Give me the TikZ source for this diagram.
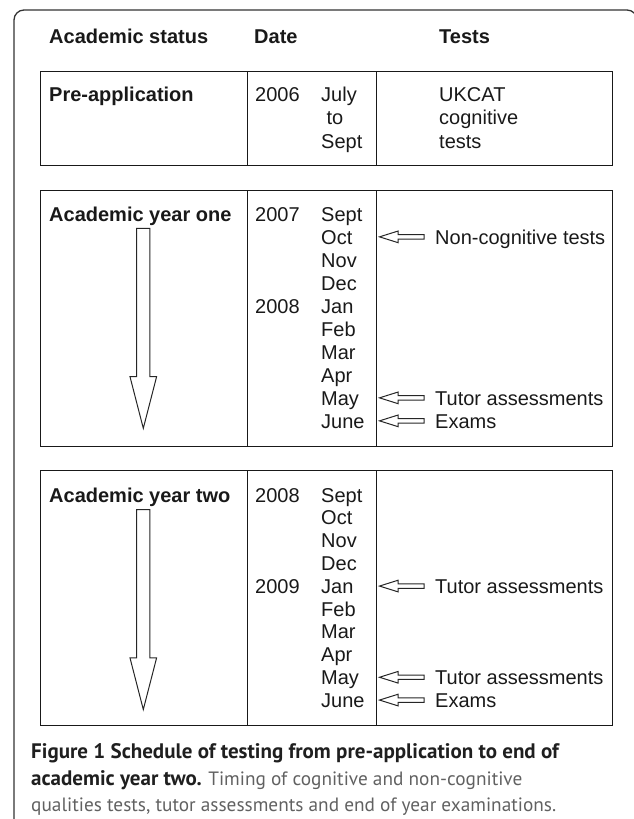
\documentclass[tikz,border=0pt]{standalone}
\usepackage{fontspec}
\setmainfont{Liberation Sans}
\newfontfamily\capfont{PT Sans}
\usepackage{tikz}
\usetikzlibrary{positioning,calc}

\tikzset{
  testarrow/.pic={
    \draw[arrowline] (0,-2.2) -- (-26,-2.2) -- (-26,-5.8) -- (-44.5,0)
      -- (-26,5.8) -- (-26,2.2) -- (0,2.2) -- cycle;
  },
  yeararrow/.pic={
    \draw[arrowline] (-6.65,0) -- (-6.65,148.4) -- (-13.3,148.4) -- (0,200)
      -- (13.3,148.4) -- (6.65,148.4) -- (6.65,0) -- cycle;
  }
}

\begin{document}
\begin{tikzpicture}[x=1pt,y=-1pt,
    every node/.style={inner sep=0pt,text=black!90},
    cell/.style={font=\fontsize{20}{23}\selectfont,anchor=base west,
                 text height=14.3pt,text depth=0pt},
    head/.style={cell,font=\fontsize{20}{23}\selectfont\bfseries},
    capbold/.style={anchor=base west,text=black!88,
                    font=\capfont\fontsize{21}{27}\selectfont\bfseries},
    capplain/.style={anchor=base west,text=black!62,
                    font=\capfont\fontsize{19.3}{27}\selectfont},
    arrowline/.style={draw=black!85,line width=1pt,line join=miter},
    grid/.style={draw=black!90,line width=1pt},
    frame/.style={draw=black!80,line width=1.3pt,rounded corners=10pt}]
  \useasboundingbox (0,0) rectangle (633,819);

  % outer frame, cut by the page
  \draw[frame] (14,10) rectangle (637,850);

  % the three blocks of the table
  \foreach \t/\b in {71/165,190/446,470/725}
    \draw[grid] (40,\t) rectangle (612,\b) (247,\t) -- (247,\b)
                (376,\t) -- (376,\b);

  % column heads
  \node[head] (status) at (49,43.5)  {Academic status};
  \node[head] (date)   at (254,43.5) {Date};
  \node[head] (tests)  at (439,43.5) {Tests};

  % pre-application
  \node[head] (pre)    at (49,101)  {Pre-application};
  \node[cell] (pre-y)  at (255,101) {2006};
  \node[cell] (pre-m1) at (321,101) {July};
  \node[cell,anchor=base] (pre-m2) at (335,124.5) {to};
  \node[cell] (pre-m3) at (321,148) {Sept};
  \node[cell] (pre-t1) at (439,101)   {UKCAT};
  \node[cell] (pre-t2) at (439,124.5) {cognitive};
  \node[cell] (pre-t3) at (439,148)   {tests};

  % academic year one
  \node[head] (one) at (49,221) {Academic year one};
  \foreach \m [count=\i] in {Sept,Oct,Nov,Dec,Jan,Feb,Mar,Apr,May,June}
    \node[cell] (a-\i) at (321,{221+(\i-1)*23}) {\m};
  \node[cell] (a-y1) at (255,0 |- a-1.base) {2007};
  \node[cell] (a-y2) at (255,0 |- a-5.base) {2008};
  \pic at (143.3,228.3) {yeararrow};

  \node[cell] (a-t1) at (435,0 |- a-2.base)  {Non-cognitive tests};
  \node[cell] (a-t2) at (435,0 |- a-9.base)  {Tutor assessments};
  \node[cell] (a-t3) at (435,0 |- a-10.base) {Exams};
  \foreach \t in {a-t1,a-t2,a-t3}
    \pic at ([xshift=-11pt]\t.west) {testarrow};

  % academic year two
  \node[head] (two) at (49,502) {Academic year two};
  \foreach \m [count=\i] in {Sept,Oct,Nov,Dec,Jan,Feb,Mar,Apr,May,June}
    \node[cell] (b-\i) at (321,{502+(\i-1)*22.8}) {\m};
  \node[cell] (b-y1) at (255,0 |- b-1.base) {2008};
  \node[cell] (b-y2) at (255,0 |- b-5.base) {2009};
  \pic at (143.3,509.5) {yeararrow};

  \node[cell] (b-t1) at (435,0 |- b-5.base)  {Tutor assessments};
  \node[cell] (b-t2) at (435,0 |- b-9.base)  {Tutor assessments};
  \node[cell] (b-t3) at (435,0 |- b-10.base) {Exams};
  \foreach \t in {b-t1,b-t2,b-t3}
    \pic at ([xshift=-11pt]\t.west) {testarrow};

  % caption
  \node[capbold] (cap1) at (31,758.3)
    {Figure 1 Schedule of testing from pre-application to end of};
  \node[capbold] (cap2) at (31,785) {academic year two.};
  \node[capplain] (cap2b) at ([xshift=6pt]cap2.base east)
    {Timing of cognitive and non-cognitive};
  \node[capplain] (cap3) at (31,811.7)
    {qualities tests, tutor assessments and end of year examinations.};
\end{tikzpicture}
\end{document}
